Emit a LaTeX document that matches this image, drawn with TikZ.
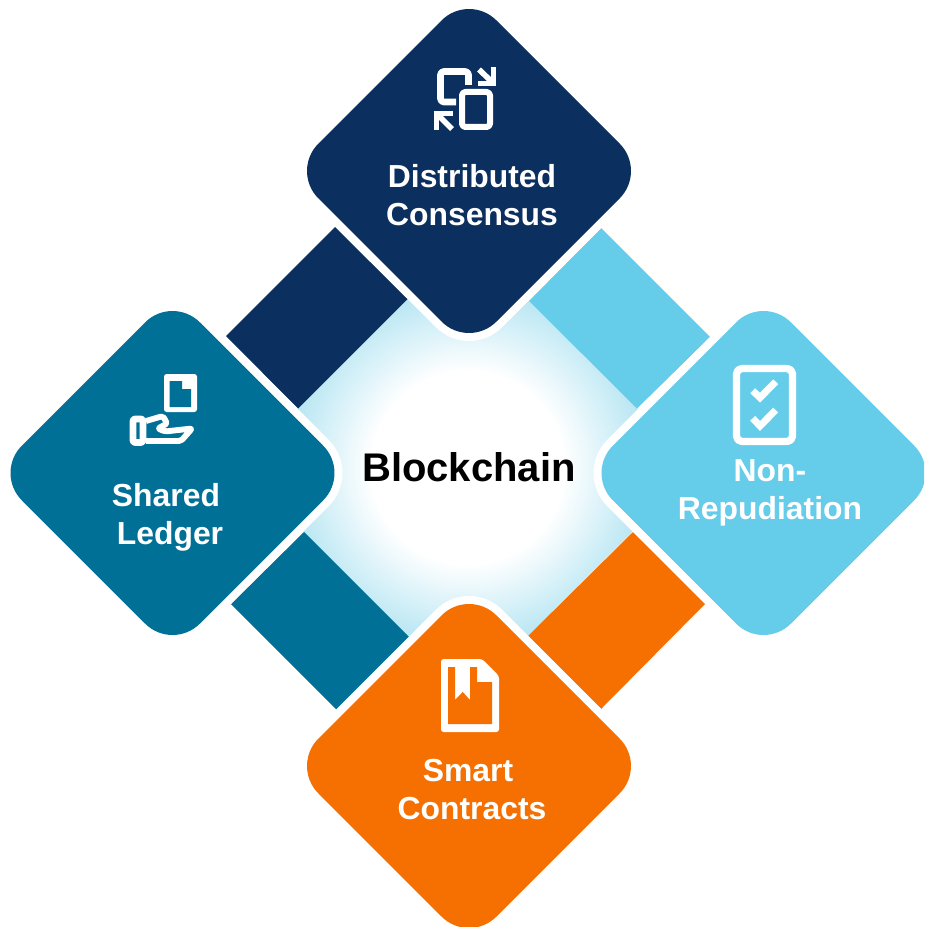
\documentclass[tikz,border=0pt]{standalone}
\usepackage{fontspec}
\setmainfont{Liberation Sans}
\definecolor{cnavy}{HTML}{0B2F5E}
\definecolor{cteal}{HTML}{007096}
\definecolor{csky}{HTML}{65CCEA}
\definecolor{corange}{HTML}{F57000}
\definecolor{cglow}{HTML}{B8E6F3}
\pgfdeclareradialshading{gemglow}{\pgfpoint{0bp}{0bp}}{color(0bp)=(white);color(10.5bp)=(white);color(19.6bp)=(cglow);color(50bp)=(cglow)}
\newcommand{\gempath}[3]{%
  \path[shift={(#1,#2)},rounded corners=29pt,#3] (-178,0)--(0,-178)--(178,0)--(0,178)--cycle;}
\newcommand{\gem}[3]{%
  \gempath{#1}{#2}{draw=white,line width=12pt}%
  \gempath{#1}{#2}{fill=#3}}
\tikzset{
  gemlabel/.style={text=white,font=\bfseries\fontsize{23.9}{28.5}\selectfont,align=center,inner sep=0pt},
  iconline/.style={draw=white,line width=#1,line join=round,line cap=butt},
  iconline/.default=4pt
}
\begin{document}
\begin{tikzpicture}[x=0.75pt,y=-0.75pt]
\useasboundingbox (0,0) rectangle (924,927);
\clip (0,0) rectangle (924,927);
% central glow
\path[shading=gemglow] (467.5,238.5)--(696.5,467.5)--(467.5,696.5)--(238.5,467.5)--cycle;
% bands
\fill[cnavy] (335,227)--(407.5,299)--(298,408.5)--(226,336)--cycle;
\fill[csky] (601,228)--(710,337)--(637,408.5)--(529,301)--cycle;
\fill[cteal] (304,532)--(409,637)--(337,710)--(231,604)--cycle;
\fill[corange] (633,532)--(706,603)--(601,709)--(528,636)--cycle;
% diamonds
\gem{469}{171}{cnavy}
\gem{172.5}{473}{cteal}
\gem{763.5}{473}{csky}
\gem{469}{766}{corange}
% labels
\node[gemlabel] (consensus) at (472,195.5) {Distributed\\Consensus};
\node[gemlabel] (ledger) at (170,517) {Shared\kern 6pt\\Ledger};
\node[gemlabel] (nonrep) at (770,492.5) {Non-\\Repudiation};
\node[gemlabel] (contracts) at (472,789.5) {Smart\kern 6pt\\Contracts};
\node[inner sep=0pt,font=\bfseries\fontsize{30}{36}\selectfont] (chain) at (469,467) {Blockchain};
% icon: distributed consensus
\draw[iconline=5pt,rounded corners=2.5pt] (468.5,85)--(468.5,71.5)--(440.5,71.5)--(440.5,102)--(456,102);
\draw[iconline=4.5pt,rounded corners=2.5pt] (462,92)--(490,92)--(490,127)--(462,127)--cycle;
\draw[iconline=4.2pt,line join=miter] (493.5,67)--(493.5,83.5)--(478,83.5);
\draw[iconline=4.2pt] (479,69.5)--(492,82);
\draw[iconline=4.2pt,line join=miter] (436.5,130)--(436.5,113.5)--(453,113.5);
\draw[iconline=4.2pt] (452,129)--(438,115);
% icon: shared ledger
\fill[white,rounded corners=2pt] (164,374)--(197,374)--(197,412)--(164,412)--cycle;
\fill[cteal] (169.5,381)--(182,381)--(182,389)--(191,389)--(191,407)--(169.5,407)--cycle;
\draw[iconline=5pt,rounded corners=1.5pt] (133,419)--(143,419)--(143,442.5)--(133,442.5)--cycle;
\draw[iconline=4.4pt,rounded corners=1.5pt] (146,421)--(163,416)--(167,423.5)--(158,428.5)--(165,431.5)--(192,428.5)--(181,441)--(146,441);
% icon: non-repudiation
\draw[iconline=5.5pt,rounded corners=4pt] (736.5,368.5)--(792.5,368.5)--(792.5,441.5)--(736.5,441.5)--cycle;
\draw[iconline=5.2pt,line join=miter] (752.7,390.7)--(760,397.7)--(775.7,381.7);
\draw[iconline=5.2pt,line join=miter] (752.7,418.3)--(760,426)--(775.7,410);
% icon: smart contracts
\fill[white,rounded corners=2pt] (441,659)--(482,659)--(499,676)--(499,732)--(441,732)--cycle;
\fill[corange] (448,667)--(455,667)--(455,700)--(462.7,692)--(470,700)--(470,667)--(477,667)--(477,682)--(492,682)--(492,724)--(448,724)--cycle;
\end{tikzpicture}
\end{document}
